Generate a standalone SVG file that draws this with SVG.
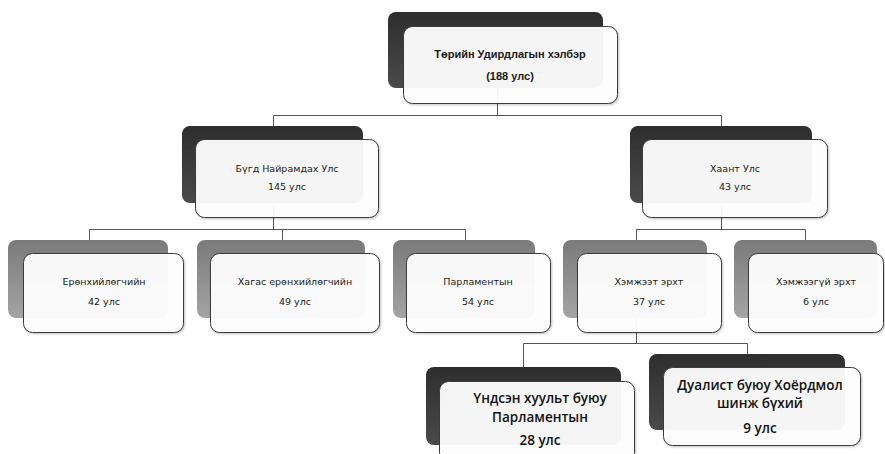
<svg xmlns="http://www.w3.org/2000/svg" width="885" height="454" viewBox="0 0 885 454">
<defs>
<linearGradient id="gDark" x1="0" y1="0" x2="0" y2="1">
<stop offset="0" stop-color="#2e2e2e"/><stop offset="1" stop-color="#4a4a4a"/>
</linearGradient>
<linearGradient id="gGray" x1="0" y1="0" x2="0" y2="1">
<stop offset="0" stop-color="#7a7a7a"/><stop offset="1" stop-color="#a4a4a4"/>
</linearGradient>
<filter id="sh" x="-10%" y="-10%" width="130%" height="130%">
<feDropShadow dx="1" dy="1" stdDeviation="1" flood-color="#000" flood-opacity="0.25"/>
</filter>
</defs>
<style>
.bd{fill:url(#gDark)}
.bg{fill:url(#gGray)}
.fr{fill:#ffffff;fill-opacity:0.94;stroke:#3a3a3a;stroke-width:1;filter:url(#sh)}
.t{font-family:"DejaVu Sans",Verdana,sans-serif;font-size:9.5px;fill:#1a1a1a;text-anchor:middle}
.tb{font-family:"Liberation Sans",Arial,sans-serif;font-size:11px;font-weight:bold;fill:#1a1a1a;text-anchor:middle}
.tl{font-family:"Open Sans","Liberation Sans",sans-serif;font-size:13.5px;font-weight:600;fill:#111;text-anchor:middle}
.c{fill:none;stroke:#555;stroke-width:1}
</style>
<rect width="885" height="454" fill="#ffffff"/>
<g id="connectors">
<path class="c" d="M497.5 60V115.5M273.5 115.5H721.5M273.5 115.5V229.5M721.5 115.5V229.5"/>
<path class="c" d="M89.5 229.5H465.5M89.5 229.5V245M282.5 229.5V245M465.5 229.5V245"/>
<path class="c" d="M636.5 229.5H805.5M636.5 229.5V245M805.5 229.5V245"/>
<path class="c" d="M636.5 290V343.5M523.5 343.5H747.5M523.5 343.5V370M747.5 343.5V360"/>
</g>
<g id="n-root">
<rect class="bd" x="388" y="12" width="215" height="76" rx="8"/>
<rect class="fr" x="403.5" y="26.5" width="214" height="77" rx="9"/>
<text class="tb" x="510" y="58">Төрийн Удирдлагын  хэлбэр</text>
<text class="tb" x="510" y="80">(188 улс)</text>
</g>
<g id="n-republic">
<rect class="bd" x="182" y="126" width="181" height="77" rx="8"/>
<rect class="fr" x="195.5" y="139.5" width="183" height="78" rx="9"/>
<text class="t" x="287" y="172">Бүгд Найрамдах Улс</text>
<text class="t" x="287" y="190">145 улс</text>
</g>
<g id="n-monarchy">
<rect class="bd" x="630" y="126" width="182" height="77" rx="8"/>
<rect class="fr" x="642.5" y="139.5" width="185" height="78" rx="9"/>
<text class="t" x="735" y="172">Хаант Улс</text>
<text class="t" x="735" y="190">43 улс</text>
</g>
<g id="n-pres">
<rect class="bg" x="8" y="240" width="160" height="78" rx="8"/>
<rect class="fr" x="23.5" y="253.5" width="160" height="79" rx="9"/>
<text class="t" x="104" y="285">Ерөнхийлөгчийн</text>
<text class="t" x="104" y="305">42 улс</text>
</g>
<g id="n-semi">
<rect class="bg" x="197" y="240" width="168" height="78" rx="8"/>
<rect class="fr" x="210.5" y="253.5" width="169" height="79" rx="9"/>
<text class="t" x="295" y="285">Хагас ерөнхийлөгчийн</text>
<text class="t" x="295" y="305">49 улс</text>
</g>
<g id="n-parl">
<rect class="bg" x="393" y="240" width="142" height="78" rx="8"/>
<rect class="fr" x="406.5" y="253.5" width="144" height="79" rx="9"/>
<text class="t" x="478" y="285">Парламентын</text>
<text class="t" x="478" y="305">54 улс</text>
</g>
<g id="n-limited">
<rect class="bg" x="563" y="240" width="144" height="78" rx="8"/>
<rect class="fr" x="577.5" y="253.5" width="144" height="79" rx="9"/>
<text class="t" x="649" y="285">Хэмжээт эрхт</text>
<text class="t" x="649" y="305">37 улс</text>
</g>
<g id="n-absolute">
<rect class="bg" x="734" y="240" width="143" height="78" rx="8"/>
<rect class="fr" x="748.5" y="253.5" width="135" height="79" rx="9"/>
<text class="t" x="816" y="285">Хэмжээгүй эрхт</text>
<text class="t" x="816" y="305">6 улс</text>
</g>
<g id="n-constitutional">
<rect class="bd" x="426" y="367" width="195" height="78" rx="8"/>
<rect class="fr" x="439.5" y="381.5" width="195" height="80" rx="9"/>
<text class="tl" x="540" y="403">Үндсэн хуульт буюу</text>
<text class="tl" x="540" y="422">Парламентын</text>
<text class="tl" x="540" y="445">28 улс</text>
</g>
<g id="n-dual">
<rect class="bd" x="649" y="354" width="196" height="76" rx="8"/>
<rect class="fr" x="663.5" y="367.5" width="197" height="78" rx="9"/>
<text class="tl" x="760" y="390">Дуалист буюу Хоёрдмол</text>
<text class="tl" x="760" y="408">шинж бүхий</text>
<text class="tl" x="760" y="433">9 улс</text>
</g>
</svg>
